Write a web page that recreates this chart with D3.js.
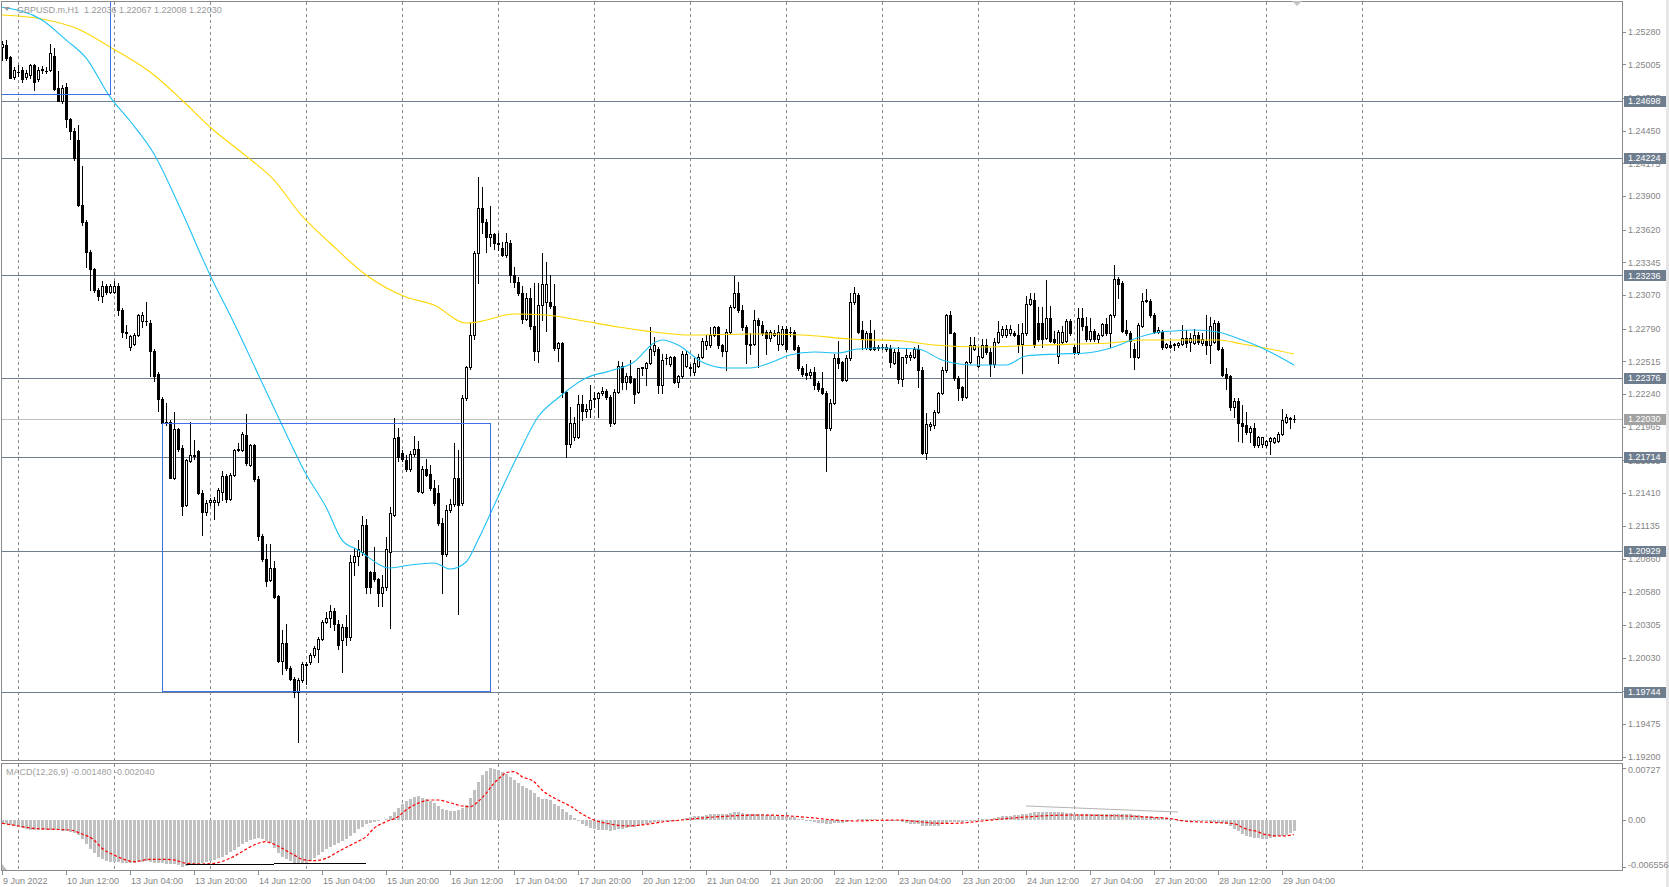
<!DOCTYPE html>
<html><head><meta charset="utf-8">
<script src="https://cdn.jsdelivr.net/npm/d3@7"></script>
<style>
body{margin:0;background:#fff;overflow:hidden}
svg{display:block}
text{font-family:'Liberation Sans',Arial,sans-serif;font-size:9px}
</style></head>
<body><svg id="chart" width="1669" height="887"></svg>
<script>
// ---------- DATA (GBPUSD.m H1, bar 0 = 9 Jun 2022 20:00) ----------
const openP = [
1.2515,1.2517,1.2507,1.2490,1.2494,1.2496,1.2490,1.2492,1.2500,1.2488,
1.2496,1.2495,1.2496,1.2508,1.2481,1.2470,1.2482,1.2455,1.2445,1.2437,
1.2383,1.2368,1.2343,1.2329,1.2311,1.2306,1.2315,1.2310,1.2310,1.2315,
1.2295,1.2276,1.2264,1.2266,1.2274,1.2285,1.2285,1.2284,1.2260,1.2241,
1.2220,1.2201,1.2201,1.2154,1.2195,1.2179,1.2131,1.2168,1.2173,1.2176,
1.2141,1.2125,1.2134,1.2134,1.2134,1.2142,1.2155,1.2136,1.2156,1.2177,
1.2177,1.2190,1.2165,1.2181,1.2153,1.2105,1.2086,1.2068,1.2078,1.2055,
1.2000,1.2015,1.1994,1.1985,1.1974,1.1984,1.1998,1.1999,1.2005,1.2010,
1.2019,1.2033,1.2036,1.2042,1.2031,1.2018,1.2029,1.2020,1.2083,1.2088,
1.2092,1.2114,1.2075,1.2075,1.2069,1.2057,1.2062,1.2092,1.2123,1.2188,
1.2175,1.2169,1.2161,1.2174,1.2178,1.2142,1.2161,1.2157,1.2145,1.2141,
1.2116,1.2090,1.2127,1.2132,1.2154,1.2133,1.2221,1.2247,1.2274,1.2342,
1.2380,1.2368,1.2356,1.2358,1.2350,1.2347,1.2341,1.2351,1.2324,1.2318,
1.2309,1.2287,1.2305,1.2281,1.2260,1.2299,1.2301,1.2301,1.2298,1.2263,
1.2267,1.2226,1.2182,1.2188,1.2188,1.2216,1.2210,1.2212,1.2220,1.2221,
1.2225,1.2227,1.2222,1.2200,1.2226,1.2248,1.2234,1.2239,1.2237,1.2226,
1.2246,1.2246,1.2250,1.2260,1.2262,1.2232,1.2254,1.2249,1.2255,1.2234,
1.2239,1.2248,1.2247,1.2243,1.2248,1.2255,1.2265,1.2265,1.2274,1.2280,
1.2265,1.2260,1.2276,1.2297,1.2309,1.2295,1.2280,1.2266,1.2266,1.2286,
1.2282,1.2276,1.2271,1.2274,1.2266,1.2266,1.2279,1.2276,1.2276,1.2264,
1.2246,1.2242,1.2240,1.2243,1.2233,1.2229,1.2225,1.2196,1.2217,1.2254,
1.2251,1.2236,1.2254,1.2301,1.2307,1.2278,1.2263,1.2275,1.2264,1.2264,
1.2264,1.2262,1.2263,1.2250,1.2259,1.2237,1.2255,1.2255,1.2255,1.2262,
1.2244,1.2175,1.2197,1.2198,1.2209,1.2225,1.2244,1.2290,1.2275,1.2238,
1.2230,1.2222,1.2251,1.2262,1.2248,1.2255,1.2265,1.2259,1.2249,1.2268,
1.2274,1.2274,1.2275,1.2275,1.2274,1.2266,1.2275,1.2300,1.2303,1.2284,
1.2284,1.2271,1.2288,1.2270,1.2256,1.2268,1.2269,1.2285,1.2264,1.2259,
1.2288,1.2281,1.2270,1.2277,1.2270,1.2274,1.2283,1.2275,1.2290,1.2321,
1.2317,1.2278,1.2275,1.2262,1.2255,1.2281,1.2302,1.2302,1.2290,1.2276,
1.2276,1.2264,1.2265,1.2265,1.2265,1.2266,1.2271,1.2268,1.2267,1.2274,
1.2267,1.2269,1.2265,1.2268,1.2284,1.2262,1.2241,1.2239,1.2213,1.2218,
1.2200,1.2198,1.2192,1.2196,1.2181,1.2182,1.2181,1.2185,1.2184,1.2185,
1.2191,1.2201,1.2204,1.22036];
const highP = [
1.2520,1.2521,1.2508,1.2498,1.2500,1.2498,1.2496,1.2501,1.2501,1.2498,
1.2499,1.2498,1.2518,1.2514,1.2495,1.2483,1.2485,1.2456,1.2447,1.2450,
1.2415,1.2370,1.2345,1.2330,1.2313,1.2319,1.2316,1.2316,1.2319,1.2317,
1.2296,1.2282,1.2274,1.2275,1.2291,1.2293,1.2301,1.2286,1.2262,1.2243,
1.2222,1.2217,1.2202,1.2209,1.2196,1.2181,1.2170,1.2201,1.2186,1.2177,
1.2144,1.2135,1.2137,1.2138,1.2145,1.2160,1.2157,1.2158,1.2178,1.2183,
1.2192,1.2207,1.2182,1.2182,1.2155,1.2107,1.2098,1.2098,1.2084,1.2056,
1.2026,1.2031,1.1996,1.1987,1.1986,1.1999,1.1999,1.2007,1.2013,1.2020,
1.2035,1.2041,1.2047,1.2045,1.2035,1.2031,1.2039,1.2089,1.2095,1.2102,
1.2122,1.2119,1.2076,1.2096,1.2070,1.2072,1.2104,1.2129,1.2204,1.2196,
1.2177,1.2173,1.2176,1.2189,1.2185,1.2164,1.2170,1.2165,1.2152,1.2148,
1.2120,1.2131,1.2136,1.2183,1.2177,1.2223,1.2248,1.2284,1.2344,1.2406,
1.2398,1.2371,1.2382,1.2359,1.2359,1.2352,1.2359,1.2353,1.2331,1.2322,
1.2315,1.2309,1.2313,1.2317,1.2317,1.2342,1.2335,1.2324,1.2316,1.2268,
1.2268,1.2227,1.2213,1.2205,1.2223,1.2223,1.2216,1.2232,1.2226,1.2226,
1.2230,1.2228,1.2223,1.2228,1.2252,1.2251,1.2242,1.2253,1.2238,1.2246,
1.2247,1.2251,1.2280,1.2272,1.2264,1.2258,1.2258,1.2256,1.2256,1.2240,
1.2260,1.2260,1.2249,1.2254,1.2258,1.2271,1.2274,1.2280,1.2281,1.2281,
1.2266,1.2279,1.2299,1.2323,1.2318,1.2299,1.2282,1.2275,1.2295,1.2288,
1.2285,1.2278,1.2278,1.2278,1.2282,1.2281,1.2281,1.2280,1.2278,1.2265,
1.2248,1.2249,1.2245,1.2247,1.2235,1.2243,1.2227,1.2220,1.2258,1.2269,
1.2252,1.2257,1.2309,1.2314,1.2309,1.2285,1.2277,1.2286,1.2278,1.2265,
1.2266,1.2266,1.2265,1.2262,1.2264,1.2255,1.2263,1.2259,1.2264,1.2265,
1.2247,1.2208,1.2201,1.2211,1.2226,1.2247,1.2291,1.2294,1.2276,1.2239,
1.2231,1.2252,1.2272,1.2272,1.2264,1.2270,1.2270,1.2263,1.2271,1.2285,
1.2281,1.2282,1.2282,1.2277,1.2283,1.2284,1.2306,1.2309,1.2309,1.2297,
1.2297,1.2320,1.2298,1.2277,1.2278,1.2281,1.2287,1.2287,1.2265,1.2296,
1.2296,1.2289,1.2288,1.2279,1.2275,1.2284,1.2288,1.2291,1.2332,1.2322,
1.2319,1.2286,1.2277,1.2267,1.2284,1.2309,1.2312,1.2304,1.2292,1.2280,
1.2278,1.2267,1.2269,1.2267,1.2268,1.2282,1.2278,1.2275,1.2279,1.2276,
1.2275,1.2290,1.2289,1.2286,1.2285,1.2264,1.2246,1.2240,1.2221,1.2221,
1.2215,1.2209,1.2197,1.2200,1.2189,1.2188,1.2186,1.2188,1.2188,1.2192,
1.2212,1.2207,1.2205,1.22067];
const lowP = [
1.2504,1.2504,1.2489,1.2488,1.2491,1.2486,1.2488,1.2489,1.2479,1.2487,
1.2493,1.2493,1.2495,1.2479,1.2470,1.2468,1.2448,1.2438,1.2420,1.2382,
1.2366,1.2331,1.2311,1.2310,1.2303,1.2301,1.2308,1.2309,1.2309,1.2290,
1.2272,1.2271,1.2261,1.2265,1.2273,1.2280,1.2282,1.2239,1.2235,1.2210,
1.2199,1.2198,1.2154,1.2153,1.2176,1.2123,1.2130,1.2167,1.2170,1.2140,
1.2106,1.2123,1.2131,1.2119,1.2131,1.2135,1.2134,1.2135,1.2155,1.2176,
1.2176,1.2165,1.2164,1.2151,1.2102,1.2084,1.2063,1.2067,1.2053,1.1999,
1.1989,1.1993,1.1984,1.1970,1.1932,1.1983,1.1981,1.1998,1.2004,1.1999,
1.2018,1.2032,1.2029,1.2026,1.2010,1.1991,1.2014,1.2018,1.2072,1.2081,
1.2089,1.2057,1.2057,1.2067,1.2046,1.2046,1.2060,1.2028,1.2122,1.2168,
1.2168,1.2160,1.2160,1.2172,1.2142,1.2141,1.2155,1.2144,1.2131,1.2114,
1.2057,1.2088,1.2125,1.2130,1.2040,1.2131,1.2219,1.2245,1.2270,1.2317,
1.2359,1.2343,1.2348,1.2346,1.2345,1.2340,1.2339,1.2318,1.2314,1.2307,
1.2284,1.2286,1.2279,1.2253,1.2251,1.2286,1.2277,1.2296,1.2261,1.2252,
1.2222,1.2171,1.2180,1.2186,1.2187,1.2202,1.2205,1.2205,1.2213,1.2205,
1.2223,1.2220,1.2197,1.2199,1.2225,1.2228,1.2228,1.2233,1.2217,1.2225,
1.2240,1.2232,1.2249,1.2257,1.2225,1.2225,1.2249,1.2248,1.2233,1.2230,
1.2238,1.2247,1.2240,1.2240,1.2247,1.2254,1.2262,1.2264,1.2273,1.2263,
1.2256,1.2244,1.2275,1.2296,1.2293,1.2278,1.2250,1.2258,1.2265,1.2247,
1.2274,1.2258,1.2269,1.2273,1.2261,1.2265,1.2260,1.2273,1.2261,1.2244,
1.2239,1.2237,1.2238,1.2228,1.2227,1.2224,1.2160,1.2194,1.2216,1.2246,
1.2235,1.2235,1.2253,1.2300,1.2275,1.2262,1.2262,1.2261,1.2261,1.2261,
1.2262,1.2260,1.2247,1.2249,1.2233,1.2231,1.2250,1.2253,1.2254,1.2230,
1.2174,1.2170,1.2194,1.2196,1.2208,1.2224,1.2243,1.2275,1.2236,1.2219,
1.2219,1.2221,1.2250,1.2261,1.2247,1.2254,1.2258,1.2239,1.2247,1.2267,
1.2272,1.2272,1.2274,1.2273,1.2259,1.2242,1.2274,1.2299,1.2264,1.2269,
1.2264,1.2270,1.2268,1.2267,1.2250,1.2267,1.2268,1.2274,1.2258,1.2258,
1.2278,1.2269,1.2269,1.2269,1.2267,1.2273,1.2274,1.2264,1.2289,1.2305,
1.2276,1.2274,1.2255,1.2245,1.2254,1.2280,1.2301,1.2289,1.2275,1.2275,
1.2262,1.2263,1.2263,1.2261,1.2264,1.2265,1.2264,1.2260,1.2266,1.2266,
1.2265,1.2258,1.2250,1.2267,1.2261,1.2239,1.2228,1.2211,1.2205,1.2185,
1.2184,1.2191,1.2184,1.2180,1.2180,1.2180,1.2180,1.2174,1.2183,1.2184,
1.2190,1.2200,1.2196,1.22008];
const closeP = [
1.2518,1.2506,1.2489,1.2496,1.2494,1.2488,1.2493,1.2500,1.2486,1.2496,
1.2497,1.2495,1.2510,1.2480,1.2470,1.2481,1.2455,1.2445,1.2422,1.2383,
1.2368,1.2343,1.2329,1.2311,1.2306,1.2315,1.2310,1.2315,1.2315,1.2295,
1.2276,1.2275,1.2273,1.2274,1.2290,1.2290,1.2285,1.2260,1.2239,1.2220,
1.2200,1.2200,1.2154,1.2195,1.2178,1.2130,1.2169,1.2173,1.2172,1.2141,
1.2125,1.2133,1.2135,1.2135,1.2144,1.2155,1.2136,1.2156,1.2177,1.2178,
1.2191,1.2166,1.2181,1.2153,1.2105,1.2086,1.2067,1.2078,1.2054,1.2000,
1.2015,1.1994,1.1985,1.1974,1.1984,1.1998,1.1997,1.2005,1.2011,1.2019,
1.2033,1.2036,1.2042,1.2031,1.2014,1.2029,1.2020,1.2083,1.2088,1.2094,
1.2114,1.2062,1.2062,1.2069,1.2057,1.2062,1.2094,1.2124,1.2187,1.2171,
1.2170,1.2161,1.2174,1.2178,1.2143,1.2161,1.2156,1.2145,1.2133,1.2116,
1.2090,1.2127,1.2132,1.2154,1.2131,1.2221,1.2247,1.2274,1.2342,1.2380,
1.2368,1.2356,1.2358,1.2351,1.2351,1.2341,1.2352,1.2324,1.2318,1.2309,
1.2287,1.2305,1.2281,1.2260,1.2299,1.2316,1.2316,1.2298,1.2263,1.2267,
1.2226,1.2182,1.2200,1.2200,1.2216,1.2210,1.2212,1.2219,1.2221,1.2225,
1.2227,1.2222,1.2200,1.2226,1.2248,1.2234,1.2239,1.2234,1.2224,1.2246,
1.2247,1.2250,1.2262,1.2265,1.2232,1.2253,1.2254,1.2255,1.2234,1.2239,
1.2258,1.2258,1.2246,1.2250,1.2255,1.2269,1.2269,1.2274,1.2280,1.2265,
1.2260,1.2276,1.2297,1.2309,1.2295,1.2280,1.2266,1.2265,1.2286,1.2282,
1.2275,1.2271,1.2276,1.2275,1.2276,1.2279,1.2262,1.2276,1.2262,1.2246,
1.2241,1.2240,1.2243,1.2232,1.2228,1.2225,1.2196,1.2217,1.2254,1.2250,
1.2236,1.2254,1.2301,1.2309,1.2276,1.2270,1.2275,1.2262,1.2262,1.2263,
1.2264,1.2264,1.2251,1.2259,1.2237,1.2255,1.2257,1.2257,1.2262,1.2244,
1.2175,1.2199,1.2199,1.2209,1.2225,1.2244,1.2290,1.2275,1.2238,1.2229,
1.2222,1.2251,1.2265,1.2265,1.2256,1.2265,1.2259,1.2249,1.2268,1.2276,
1.2279,1.2279,1.2279,1.2274,1.2266,1.2275,1.2300,1.2304,1.2265,1.2270,
1.2270,1.2288,1.2269,1.2268,1.2276,1.2276,1.2285,1.2275,1.2259,1.2288,
1.2281,1.2270,1.2277,1.2270,1.2274,1.2283,1.2275,1.2290,1.2321,1.2316,
1.2277,1.2275,1.2269,1.2255,1.2282,1.2302,1.2303,1.2290,1.2276,1.2278,
1.2264,1.2266,1.2264,1.2266,1.2267,1.2271,1.2267,1.2271,1.2274,1.2268,
1.2270,1.2265,1.2281,1.2284,1.2262,1.2240,1.2238,1.2213,1.2218,1.2200,
1.2197,1.2192,1.2196,1.2181,1.2188,1.2188,1.2185,1.2187,1.2187,1.2191,
1.2202,1.2205,1.2203,1.22030];

// moving averages: [bar index, price]
const maBlue = [[0,1.25485],[10,1.25378],[16,1.25211],[21,1.25060],[27,1.24733],[32,1.24531],[38,1.24255],[45,1.23768],[52,1.23240],[58,1.22837],[64,1.22410],[70,1.21982],[76,1.21571],[81,1.21294],[85,1.21017],[89,1.20934],[97,1.20783],[102,1.20808],[108,1.20825],[112,1.20774],[116,1.20833],[119,1.21017],[124,1.21378],[129,1.21730],[134,1.22049],[139,1.22208],[146,1.22376],[152,1.22435],[158,1.22510],[163,1.22670],[165,1.22695],[169,1.22653],[175,1.22510],[181,1.22460],[187,1.22460],[192,1.22502],[197,1.22569],[203,1.22594],[209,1.22586],[214,1.22619],[220,1.22628],[229,1.22619],[235,1.22527],[243,1.22485],[251,1.22485],[256,1.22561],[264,1.22577],[271,1.22586],[278,1.22636],[283,1.22703],[288,1.22753],[293,1.22770],[298,1.22778],[304,1.22762],[308,1.22720],[315,1.22628],[323,1.22485]];
const maYellow = [[0,1.25420],[10,1.25387],[19,1.25303],[27,1.25152],[38,1.24917],[45,1.24707],[52,1.24481],[61,1.24238],[68,1.24036],[75,1.23735],[82,1.23508],[91,1.23240],[101,1.23055],[108,1.22988],[116,1.22837],[119,1.22846],[128,1.22913],[136,1.22904],[144,1.22862],[154,1.22804],[163,1.22762],[172,1.22736],[187,1.22745],[200,1.22736],[212,1.22703],[225,1.22686],[233,1.22653],[245,1.22636],[260,1.22653],[277,1.22669],[285,1.22695],[304,1.22695],[310,1.22661],[317,1.22619],[323,1.22577]];

// MACD(12,26,9) histogram per bar
const macdHist = [
-0.0004,-0.0006,-0.0007,-0.0008,-0.0010,-0.0011,-0.0013,-0.0014,-0.0014,-0.0014,
-0.0014,-0.0014,-0.0014,-0.0014,-0.0014,-0.0015,-0.0015,-0.0017,-0.0018,-0.0021,
-0.0027,-0.0034,-0.0041,-0.0046,-0.0052,-0.0055,-0.0058,-0.0059,-0.0059,-0.0059,
-0.0060,-0.0060,-0.0060,-0.0060,-0.0059,-0.0059,-0.0058,-0.0059,-0.0060,-0.0060,
-0.0061,-0.0062,-0.0062,-0.0062,-0.0063,-0.006556,-0.0065,-0.0063,-0.0062,-0.0062,
-0.0060,-0.0059,-0.0058,-0.0056,-0.0054,-0.0052,-0.0049,-0.0045,-0.0042,-0.0038,
-0.0034,-0.0031,-0.0028,-0.0027,-0.0026,-0.0027,-0.0029,-0.0032,-0.0039,-0.0046,
-0.0052,-0.0055,-0.0058,-0.0060,-0.0062,-0.0062,-0.0060,-0.0058,-0.0053,-0.0049,
-0.0045,-0.0041,-0.0038,-0.0035,-0.0033,-0.0030,-0.0027,-0.0022,-0.0018,-0.0013,
-0.0010,-0.0006,-0.0004,-0.0003,-0.0001,-0.00004,0.0002,0.0006,0.0011,0.0017,
0.0022,0.0027,0.0030,0.0032,0.0034,0.0031,0.0030,0.0027,0.0024,0.0020,
0.0016,0.0014,0.0013,0.0013,0.0014,0.0017,0.0021,0.0031,0.0042,0.0053,
0.0063,0.0069,0.00727,0.0072,0.0070,0.0067,0.0065,0.0060,0.0056,0.0052,
0.0048,0.0045,0.0042,0.0038,0.0032,0.0030,0.0029,0.0028,0.0022,0.0020,
0.0015,0.0011,0.0007,0.0003,-0.0001,-0.0006,-0.0008,-0.0011,-0.0013,-0.0014,
-0.0014,-0.0014,-0.0015,-0.0014,-0.0013,-0.0012,-0.0011,-0.0010,-0.0010,-0.0008,
-0.0007,-0.0006,-0.0004,-0.0003,-0.0003,-0.0002,-0.0001,-0.0001,-0.0001,0.0000,
0.0001,0.0003,0.0004,0.0005,0.0006,0.0006,0.0007,0.0008,0.0008,0.0008,
0.0008,0.0009,0.0010,0.0011,0.0011,0.0010,0.0009,0.0008,0.0008,0.0008,
0.0008,0.0007,0.0007,0.0006,0.0006,0.0006,0.0005,0.0004,0.0004,0.0002,
0.0001,-0.0001,-0.0002,-0.0003,-0.0004,-0.0004,-0.0006,-0.0006,-0.0004,-0.0004,
-0.0004,-0.0003,-0.0001,0.0000,0.0001,0.0001,0.0001,0.0001,0.0001,0.0000,
0.0000,-0.0001,-0.0001,-0.0001,-0.0002,-0.0003,-0.0004,-0.0005,-0.0006,-0.0006,
-0.0008,-0.0009,-0.0009,-0.0008,-0.0008,-0.0006,-0.0004,-0.0003,-0.0003,-0.0003,
-0.0003,-0.0002,-0.0001,-0.0001,0.0000,0.0001,0.0001,0.0002,0.0003,0.0004,
0.0005,0.0006,0.0006,0.0007,0.0007,0.0008,0.0008,0.0010,0.0011,0.0011,
0.0011,0.0011,0.0011,0.0011,0.0011,0.0011,0.0010,0.0010,0.0009,0.0009,
0.0009,0.0009,0.0008,0.0008,0.0008,0.0008,0.0008,0.0008,0.0008,0.0009,
0.0009,0.0008,0.0008,0.0007,0.0007,0.0006,0.0006,0.0005,0.0004,0.0004,
0.0004,0.0003,0.0002,0.0001,-0.0001,-0.0001,-0.0001,-0.0001,-0.0002,-0.0002,
-0.0002,-0.0002,-0.0003,-0.0003,-0.0004,-0.0004,-0.0006,-0.0008,-0.0012,-0.0016,
-0.0020,-0.0022,-0.0024,-0.0025,-0.0025,-0.0027,-0.0027,-0.0026,-0.0024,-0.0023,
-0.0023,-0.0021,-0.0019,-0.00148];
// MACD signal line: [bar index, value]
const macdSignal = [[0,-0.00046],[4,-0.00084],[8,-0.00117],[13,-0.00131],[17,-0.00141],[20,-0.00197],[23,-0.00281],[25,-0.00398],[28,-0.00492],[31,-0.00562],[33,-0.00586],[37,-0.00553],[41,-0.00553],[43,-0.00562],[46,-0.00609],[50,-0.00619],[53,-0.00609],[57,-0.00539],[60,-0.00446],[63,-0.00352],[66,-0.00305],[67,-0.00319],[70,-0.00398],[73,-0.00492],[75,-0.00553],[78,-0.00572],[81,-0.00539],[84,-0.00446],[88,-0.00328],[91,-0.00235],[93,-0.00117],[96,-0.00024],[99,0.00046],[101,0.00141],[104,0.00235],[107,0.00281],[109,0.00281],[112,0.00243],[115,0.00197],[117,0.00187],[119,0.00257],[121,0.00375],[123,0.00516],[125,0.00619],[126,0.00665],[128,0.00679],[130,0.00609],[133,0.00539],[135,0.00422],[139,0.00281],[142,0.00197],[145,0.00084],[148,0],[152,-0.00056],[156,-0.00084],[160,-0.0007],[165,-0.00028],[170,0],[175,0.00028],[182,0.00056],[190,0.0007],[197,0.00056],[203,0.00028],[208,0],[213,-0.00014],[218,-0.00007],[224,0],[230,-0.00028],[235,-0.00049],[240,-0.00042],[245,-0.00014],[250,0.00014],[256,0.00042],[262,0.00063],[268,0.0007],[275,0.00063],[281,0.00056],[287,0.00038],[292,0.00021],[294,0],[296,-0.00018],[300,-0.00028],[304,-0.00038],[307,-0.00046],[309,-0.0007],[310,-0.00103],[312,-0.00141],[314,-0.00165],[315,-0.0019],[317,-0.00215],[319,-0.00225],[321,-0.00222],[323,-0.00204]];
// trend lines drawn in the MACD window: [bar, value]
const macdTrendBlack = [[[46,-0.00619],[68,-0.00619]],[[68,-0.0061],[91,-0.0061]]];
const macdTrendGray = [[256,0.00197],[294,0.00112]];

// horizontal levels, current bid, rectangles
const levelPrices = [1.24698,1.24224,1.23236,1.22376,1.21714,1.20929,1.19744];
const bidPrice = 1.22030;
const rectangles = [{i0:-10,i1:27,p0:1.24755,p1:1.2600},{i0:40,i1:122,p0:1.19750,p1:1.21995}];

// axes
const priceTicks = [1.25280,1.25005,1.24725,1.24450,1.24175,1.23900,1.23620,1.23345,1.23070,1.22790,1.22515,1.22240,1.21965,1.21685,1.21410,1.21135,1.20860,1.20580,1.20305,1.20030,1.19750,1.19475,1.19200];
const timeTickBars = [0,16,32,48,64,80,96,112,128,144,160,176,192,208,224,240,256,272,288,304,320];
const timeTickLabels = ["9 Jun 2022","10 Jun 12:00","13 Jun 04:00","13 Jun 20:00","14 Jun 12:00","15 Jun 04:00","15 Jun 20:00","16 Jun 12:00","17 Jun 04:00","17 Jun 20:00","20 Jun 12:00","21 Jun 04:00","21 Jun 20:00","22 Jun 12:00","23 Jun 04:00","23 Jun 20:00","24 Jun 12:00","27 Jun 04:00","27 Jun 20:00","28 Jun 12:00","29 Jun 04:00"];
const gridBars = [4,28,52,76,100,124,148,172,196,220,244,268,292,316,340];
const macdTicks = [0.00727,0,-0.006556];
const macdTickLabels = ["0.00727","0.00","-0.006556"];
const headerText = "GBPUSD.m,H1  1.22036 1.22067 1.22008 1.22030";
const macdText = "MACD(12,26,9) -0.001480 -0.002040";

// ---------- DRAW ----------
const svg = d3.select('#chart');
const W = 1669, H = 887, AX = 1622;
const mainTop = 1, mainBot = 760, macdTop = 763, macdBot = 870;
const x = d3.scaleLinear().domain([0, 323]).range([2, 1294]);
const y = d3.scaleLinear().domain([1.19200, 1.25280]).range([756.7, 31.7]);
const ym = d3.scaleLinear().domain([-0.006556, 0.00727]).range([866.6, 768.3]);
const col = i => Math.round(x(i));
const fmt5 = d3.format('.5f');

svg.append('rect').attr('width', W).attr('height', H).attr('fill', '#fff');
const defs = svg.append('defs');
defs.append('clipPath').attr('id','cpMain').append('rect').attr('x',2).attr('y',2).attr('width',AX-2).attr('height',mainBot-2);
defs.append('clipPath').attr('id','cpMacd').append('rect').attr('x',2).attr('y',macdTop+1).attr('width',AX-2).attr('height',macdBot-macdTop-1);

// grid
const gGrid = svg.append('g').attr('shape-rendering','crispEdges');
[[mainTop+1, mainBot],[macdTop+1, macdBot]].forEach(([a,b]) => {
  gGrid.selectAll(null).data(gridBars).join('line')
    .attr('x1', d => col(d)+0.5).attr('x2', d => col(d)+0.5).attr('y1', a).attr('y2', b)
    .attr('stroke', '#8c8c8c').attr('stroke-dasharray', '3,3');
});

// main panel
const gMain = svg.append('g').attr('clip-path','url(#cpMain)');
gMain.selectAll('line.lvl').data(levelPrices).join('line')
  .attr('x1', 0).attr('x2', AX).attr('y1', d => Math.round(y(d))+0.5).attr('y2', d => Math.round(y(d))+0.5)
  .attr('stroke', '#6f7e8f').attr('stroke-width', 1).attr('shape-rendering','crispEdges');
gMain.append('line').attr('x1',0).attr('x2',AX).attr('y1',Math.round(y(bidPrice))+0.5).attr('y2',Math.round(y(bidPrice))+0.5)
  .attr('stroke','#c0c0c0').attr('shape-rendering','crispEdges');

const bars = d3.range(openP.length).map(i => ({i, o:openP[i], h:highP[i], l:lowP[i], c:closeP[i]}));
const gC = gMain.append('g').attr('shape-rendering','crispEdges');
gC.selectAll('rect.w').data(bars).join('rect')
  .attr('x', d => col(d.i)).attr('width', 1)
  .attr('y', d => Math.round(y(d.h)))
  .attr('height', d => Math.max(1, Math.round(y(d.l)) - Math.round(y(d.h)) + 1))
  .attr('fill', '#000');
gC.selectAll('rect.b').data(bars).join('rect')
  .attr('x', d => col(d.i)-1).attr('width', 3)
  .attr('y', d => Math.round(y(Math.max(d.o,d.c))))
  .attr('height', d => Math.round(y(Math.min(d.o,d.c))) - Math.round(y(Math.max(d.o,d.c))) + 1)
  .attr('fill', '#000');
gC.selectAll('rect.in').data(bars.filter(d => d.c > d.o && Math.round(y(d.o)) - Math.round(y(d.c)) >= 2)).join('rect')
  .attr('x', d => col(d.i)).attr('width', 1)
  .attr('y', d => Math.round(y(d.c)) + 1)
  .attr('height', d => Math.round(y(d.o)) - Math.round(y(d.c)) - 1)
  .attr('fill', '#fff');

const lineMA = d3.line().x(d => x(d[0])).y(d => y(d[1])).curve(d3.curveMonotoneX);
gMain.append('path').attr('d', lineMA(maYellow)).attr('fill','none').attr('stroke','#ffd700').attr('stroke-width',1.1);
gMain.append('path').attr('d', lineMA(maBlue)).attr('fill','none').attr('stroke','#1ec0f5').attr('stroke-width',1.1);

gMain.selectAll('rect.obj').data(rectangles).join('rect')
  .attr('x', d => col(d.i0)+0.5).attr('y', d => Math.round(y(d.p1))+0.5)
  .attr('width', d => col(d.i1) - col(d.i0)).attr('height', d => Math.round(y(d.p0)) - Math.round(y(d.p1)))
  .attr('fill','none').attr('stroke','#3d6fe6').attr('shape-rendering','crispEdges');

// MACD panel
const gM = svg.append('g').attr('clip-path','url(#cpMacd)');
const z0 = Math.round(ym(0));
gM.selectAll('rect.h').data(macdHist.map((v,i)=>({i,v}))).join('rect')
  .attr('x', d => col(d.i)-1).attr('width', 3)
  .attr('y', d => d.v >= 0 ? Math.round(ym(d.v)) : z0)
  .attr('height', d => Math.abs(Math.round(ym(d.v)) - z0))
  .attr('fill', '#c0c0c0').attr('shape-rendering','crispEdges');
const lineM = d3.line().x(d => x(d[0])).y(d => ym(d[1]));
gM.append('path').attr('d', lineM.curve(d3.curveMonotoneX)(macdSignal)).attr('fill','none')
  .attr('stroke','#ff0000').attr('stroke-width',1.2).attr('stroke-dasharray','3,2');
macdTrendBlack.forEach(seg => gM.append('path').attr('d', d3.line().x(d=>x(d[0])).y(d=>Math.round(ym(d[1]))+0.5)(seg))
  .attr('stroke','#000').attr('fill','none').attr('shape-rendering','crispEdges'));
gM.append('path').attr('d', d3.line().x(d=>x(d[0])).y(d=>ym(d[1]))(macdTrendGray)).attr('stroke','#b4b4b4').attr('fill','none');

// frames
const gF = svg.append('g').attr('fill','none').attr('stroke','#8a8a8a').attr('shape-rendering','crispEdges');
gF.append('rect').attr('x',1.5).attr('y',mainTop+0.5).attr('width',AX-1).attr('height',mainBot-mainTop);
gF.append('rect').attr('x',1.5).attr('y',macdTop+0.5).attr('width',AX-1).attr('height',macdBot-macdTop);
svg.append('rect').attr('x',1666).attr('y',0).attr('width',3).attr('height',H).attr('fill','#e6e6e6');

// price axis
const gA = svg.append('g');
gA.selectAll('line.t').data(priceTicks).join('line')
  .attr('x1', AX).attr('x2', AX+4).attr('y1', d => Math.round(y(d))+0.5).attr('y2', d => Math.round(y(d))+0.5)
  .attr('stroke','#8a8a8a').attr('shape-rendering','crispEdges');
gA.selectAll('text.t').data(priceTicks).join('text')
  .attr('x', AX+6).attr('y', d => y(d)).attr('dy','0.35em').attr('fill','#858585').text(d => fmt5(d));
const lv = gA.selectAll('g.lv').data(levelPrices.map(p=>({p,bg:'#6f7e8f'})).concat([{p:bidPrice,bg:'#a2a2a2'}])).join('g');
lv.append('rect').attr('x', AX+2).attr('y', d => Math.round(y(d.p))-5).attr('width', 42).attr('height', 11)
  .attr('fill', d => d.bg).attr('shape-rendering','crispEdges');
lv.append('text').attr('x', AX+6).attr('y', d => y(d.p)).attr('dy','0.35em').attr('fill','#fff').text(d => fmt5(d.p));

// macd axis
gA.selectAll('line.m').data(macdTicks).join('line')
  .attr('x1', AX).attr('x2', AX+4).attr('y1', d => Math.round(ym(d))+0.5).attr('y2', d => Math.round(ym(d))+0.5)
  .attr('stroke','#8a8a8a').attr('shape-rendering','crispEdges');
gA.selectAll('text.m').data(macdTicks).join('text')
  .attr('x', AX+6).attr('y', (d,i) => i===0 ? ym(d)+2 : (i===2 ? ym(d)-2 : ym(d))).attr('dy','0.35em')
  .attr('fill','#858585').text((d,i) => macdTickLabels[i]);

// time axis
gA.selectAll('line.x').data(timeTickBars).join('line')
  .attr('x1', d => col(d)+0.5).attr('x2', d => col(d)+0.5).attr('y1', macdBot+1).attr('y2', macdBot+5)
  .attr('stroke','#8a8a8a').attr('shape-rendering','crispEdges');
gA.selectAll('text.x').data(timeTickBars).join('text')
  .attr('x', d => col(d)+1).attr('y', 883.5).attr('fill','#858585').text((d,i) => timeTickLabels[i]);

// headers & markers
svg.append('path').attr('d','M4,7 L10,7 L7,11 Z').attr('fill','#9a9a9a');
svg.append('text').attr('x',17).attr('y',12.5).attr('fill','#999').attr('xml:space','preserve').text(headerText);
svg.append('text').attr('x',6).attr('y',775).attr('fill','#a0a0a0').text(macdText);
svg.append('path').attr('d','M1292,1 L1302,1 L1297,6 Z').attr('fill','#c4c4c4');
svg.append('path').attr('d','M2,864 L2,870 L7,870 Z').attr('fill','#bcbcbc');
</script>
</body></html>
